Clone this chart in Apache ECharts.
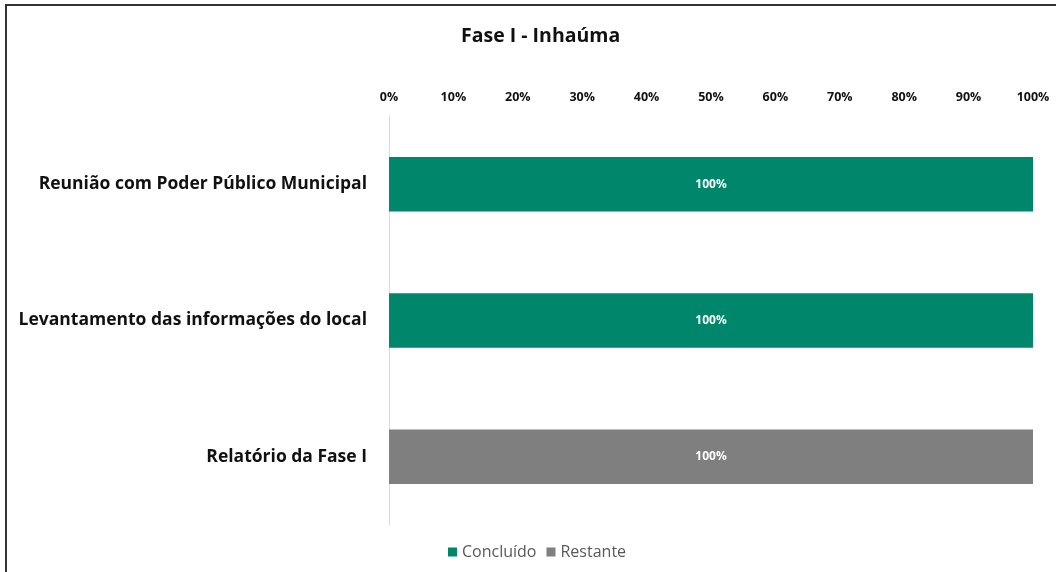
<!DOCTYPE html>
<html lang="pt">
<head>
    <meta charset="UTF-8">
    <title>Fase I - Inhaúma</title>
    <script src="https://cdn.jsdelivr.net/npm/echarts@6/dist/echarts.min.js"></script>
    <style>
        html, body { margin: 0; padding: 0; background: #fff; }
        #main { width: 1056px; height: 572px; }
    </style>
</head>
<body>
    <div id="main"></div>
    <script>
        // dados do gráfico
        var categorias = ['Reunião com Poder Público Municipal', 'Levantamento das informações do local', 'Relatório da Fase I'];
        var concluido = [100, 100, 0];
        var restante = [0, 0, 100];
        var nomesSeries = ['Concluído', 'Restante'];

        var fonte = '"Open Sans", "Liberation Sans", sans-serif';

        var rotulo = {
            show: true,
            position: 'inside',
            color: '#fff',
            fontWeight: 'bold',
            fontSize: 12,
            fontFamily: fonte,
            formatter: function (p) {
                return p.value > 0 ? p.value + '%' : '';
            }
        };

        var option = {
            backgroundColor: '#fff',
            animation: false,
            title: {
                text: 'Fase I - Inhaúma',
                left: 456,
                top: 21,
                textStyle: { fontFamily: fonte, fontSize: 19.5, fontWeight: 'bold', color: '#111' }
            },
            legend: {
                bottom: 7,
                left: 443,
                itemWidth: 9,
                itemHeight: 9,
                itemGap: 10,
                icon: 'rect',
                textStyle: { fontFamily: fonte, fontSize: 16, color: '#595959' },
                data: nomesSeries
            },
            grid: { left: 389, right: 23, top: 116, bottom: 47 },
            xAxis: {
                type: 'value',
                position: 'top',
                min: 0,
                max: 100,
                interval: 10,
                axisLine: { show: false },
                axisTick: { show: false },
                splitLine: { show: false },
                axisLabel: {
                    formatter: '{value}%',
                    margin: 12,
                    fontFamily: fonte,
                    fontSize: 12.5,
                    fontWeight: 'bold',
                    color: '#111'
                }
            },
            yAxis: {
                type: 'category',
                inverse: true,
                data: categorias,
                axisLine: { show: true, lineStyle: { color: '#d9d9d9', width: 1 } },
                axisTick: { show: false },
                axisLabel: {
                    margin: 22,
                    fontFamily: fonte,
                    fontSize: 17.5,
                    fontWeight: 'bold',
                    color: '#111'
                }
            },
            series: [
                {
                    name: nomesSeries[0],
                    type: 'bar',
                    stack: 'total',
                    barWidth: '40%',
                    itemStyle: { color: '#00866a' },
                    label: rotulo,
                    data: concluido
                },
                {
                    name: nomesSeries[1],
                    type: 'bar',
                    stack: 'total',
                    barWidth: '40%',
                    itemStyle: { color: '#7f7f7f' },
                    label: rotulo,
                    data: restante
                }
            ],
            graphic: [
                {
                    type: 'rect',
                    shape: { x: 6, y: 5, width: 1100, height: 620 },
                    style: { fill: 'none', stroke: '#333', lineWidth: 2 },
                    silent: true
                }
            ]
        };

        var myChart = echarts.init(document.getElementById('main'));
        myChart.setOption(option);
    </script>
</body>
</html>
